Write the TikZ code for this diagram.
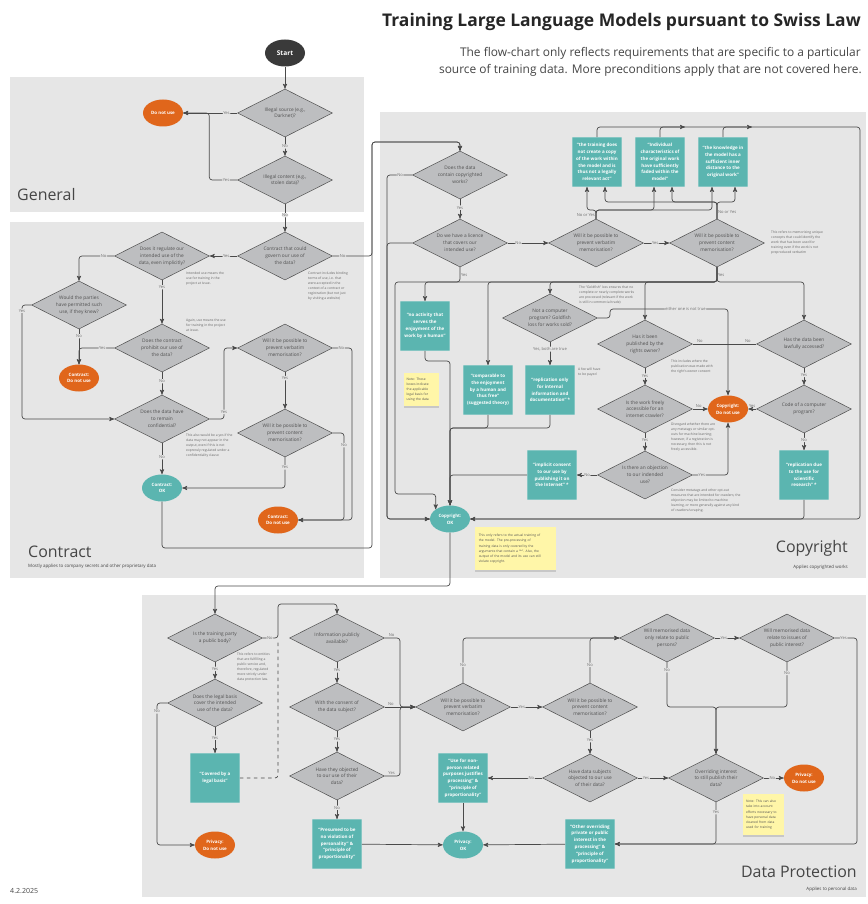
\documentclass[tikz,border=0pt]{standalone}
\usepackage{fontspec}
\setmainfont{Open Sans}
\usetikzlibrary{arrows,shapes.geometric,shadows}
\definecolor{panelbg}{HTML}{E6E6E6}
\definecolor{qgray}{HTML}{BDBEC0}
\definecolor{qtext}{HTML}{505050}
\definecolor{lineg}{HTML}{4A4A4A}
\definecolor{lcteal}{HTML}{5BB5B0}
\definecolor{lcorange}{HTML}{E0661B}
\definecolor{startdark}{HTML}{3A3A3A}
\definecolor{memoyel}{HTML}{FFF6A8}
\definecolor{notegray}{HTML}{666666}
\definecolor{lblgray}{HTML}{707070}
\definecolor{sectgray}{HTML}{454545}
\tikzset{
	fc_q/.style = {diamond, aspect=2, draw=lineg, line width=0.4pt, fill=qgray,
		text=qtext, inner sep=0pt, minimum width=2.85cm, minimum height=1.44cm,
		align=center, font=\fontsize{4.1}{5.8}\selectfont},% question
	fc_box/.style = {rectangle, rounded corners=0.6pt, fill=lcteal, draw=lcteal!75!white,
		text=white, minimum width=1.48cm, minimum height=1.48cm, inner sep=0pt,
		align=center, font=\bfseries\fontsize{3.85}{5.8}\selectfont},% base legale
	fc_ok/.style = {ellipse, fill=lcteal, text=white, minimum width=1.2cm,
		minimum height=0.81cm, inner sep=0pt, align=center,
		font=\bfseries\fontsize{3.8}{5.7}\selectfont},% ok
	fc_stop/.style = {fc_ok, fill=lcorange},% ne pas utiliser
	fc_note/.style = {anchor=north west, align=left, text=notegray, inner sep=0pt,
		font=\fontsize{2.85}{4.3}\selectfont},
	fc_memo/.style = {anchor=north west, align=left, fill=memoyel, text=qtext,
		inner ysep=0pt, font=\fontsize{2.8}{4.4}\selectfont,
		drop shadow={shadow xshift=0pt, shadow yshift=-1.3pt, opacity=0.3}},
	fc_lbl/.style = {fill=panelbg, text=lblgray, inner sep=0.6pt,
		font=\fontsize{3.5}{4}\selectfont},
	fc_sect/.style = {text=sectgray, inner sep=0pt, font=\fontsize{13.6}{16}\selectfont},
	fc_sub/.style = {text=sectgray, inner sep=0pt, font=\fontsize{3.8}{5}\selectfont},
	flow/.style = {->, draw=lineg, line width=0.6pt, rounded corners=2.5pt},
	link/.style = {-, draw=lineg, line width=0.6pt, rounded corners=2.5pt}
}

\begin{document}
\begin{tikzpicture}[x=0.03cm, y=-0.03cm, >=stealth']
\fill[white] (0,0) rectangle (867,904);
\useasboundingbox (0,0) rectangle (867,904);

% panels
\fill[panelbg] (10,77) rectangle (364,212);
\fill[panelbg] (10,222) rectangle (364,578);
\fill[panelbg] (380,112) rectangle (866,578);
\fill[panelbg] (142,595) rectangle (866,897);

\node[anchor=base east, text=black!85, inner sep=0pt,
	font=\bfseries\fontsize{14.9}{17}\selectfont] (title) at (861,27)
	{Training Large Language Models pursuant to Swiss Law};
\node[anchor=base east, text=sectgray, inner sep=0pt, font=\fontsize{10.2}{12}\selectfont] (sub1) at (861,57)
	{The flow-chart only reflects requirements that are specific to a particular};
\node[anchor=base east, text=sectgray, inner sep=0pt, font=\fontsize{10.2}{12}\selectfont] (sub2) at (862,74)
	{source of training data. More preconditions apply that are not covered here.};
\node[anchor=base west, text=sectgray, inner sep=0pt, font=\fontsize{6}{7}\selectfont] (date) at (10,893) {4.2.2025};

\node[fc_sect, anchor=base west] (t_gen) at (17,200) {General};
\node[fc_sect, anchor=base west] (t_ctr) at (28,557) {Contract};
\node[fc_sub, anchor=base west] (s_ctr) at (28,567) {Mostly applies to company secrets and other proprietary data};
\node[fc_sect, anchor=base east] (t_cp) at (848,552) {Copyright};
\node[fc_sub, anchor=base east] (s_cp) at (848,568) {Applies copyrighted works};
\node[fc_sect, anchor=base east] (t_dp) at (857,877) {Data Protection};
\node[fc_sub, anchor=base east] (s_dp) at (857,890) {Applies to personal data};

% general
\node[fc_ok, fill=startdark, font=\bfseries\fontsize{5.6}{6.5}\selectfont] (start) at (285,53) {Start};
\node[fc_q] (q_src) at (285,113) {Illegal source (e.g.,\\Darknet)?};
\node[fc_q] (q_cnt) at (285,180) {Illegal content (e.g.,\\stolen data)?};
\node[fc_stop] (stop_gen) at (163,113) {Do not use};

% contract
\node[fc_q] (q_ctr) at (285,256) {Contract that could\\govern our use of\\the data?};
\node[fc_q] (q_reg) at (162,256) {Does it regulate our\\intended use of the\\data, even implicitly?};
\node[fc_q] (q_perm) at (79,305) {Would the parties\\have permitted such\\use, if they knew?};
\node[fc_q] (q_proh) at (162,348) {Does the contract\\prohibit our use of\\the data?};
\node[fc_stop] (ctr_stop1) at (79,378) {Contract:\\Do not use};
\node[fc_q] (q_conf) at (162,419) {Does the data have\\to remain\\confidential?};
\node[fc_ok] (ctr_ok) at (162,488) {Contract:\\OK};
\node[fc_q] (q_cvb) at (285,348) {Will it be possible to\\prevent verbatim\\memorisation?};
\node[fc_q] (q_ccm) at (285,433) {Will it be possible to\\prevent content\\memorisation?};
\node[fc_stop] (ctr_stop2) at (278,520) {Contract:\\Do not use};

\node[fc_note] (n_ctr) at (308,272) {Contract includes binding\\terms of use, i.e. that\\were accepted in the\\context of a contract or\\registration (but not just\\by visiting a website)};
\node[fc_note] (n_reg) at (186,272) {Intended use means the\\use for training in the\\project at issue.};
\node[fc_note] (n_proh) at (186,319) {Again, use means the use\\for training in the project\\at issue.};
\node[fc_note] (n_conf) at (186,434) {This also would be a yes if the\\data may not appear in the\\output, even if this is not\\expressly regulated under a\\confidentiality clause};

% copyright
\node[fc_q] (q_cw) at (460,175) {Does the data\\contain copyrighted\\works?};
\node[fc_q] (q_lic) at (460,243) {Do we have a licence\\that covers our\\intended use?};
\node[fc_q] (q_vb) at (596,243) {Will it be possible to\\prevent verbatim\\memorisation?};
\node[fc_q] (q_cm) at (717,243) {Will it be possible to\\prevent content\\memorisation?};
\node[fc_box] (b_copy) at (597,162) {“the training does\\not create a copy\\of the work within\\the model and is\\thus not a legally\\relevant act”};
\node[fc_box] (b_fade) at (660,162) {“Individual\\characteristics of\\the original work\\have sufficiently\\faded within the\\model”};
\node[fc_box] (b_dist) at (723,162) {“the knowledge in\\the model has a\\sufficient inner\\distance to the\\original work”};
\node[fc_note] (n_cm) at (771,231) {This refers to memorising unique\\concepts that could identify the\\work that has been used for\\training even if the work is not\\preproduced verbatim};

\node[fc_box] (b_enj) at (425,326) {“no activity that\\serves the\\enjoyment of the\\work by a human”};
\node[fc_box] (b_comp) at (488,390) {“comparable to\\the enjoyment\\by a human and\\thus free”\\(suggested theory)};
\node[fc_q] (q_prog) at (550,318) {Not a computer\\program? Goldfish\\loss for works sold?};
\node[fc_box] (b_int) at (550,390) {“replication only\\for internal\\information and\\documentation” *};
\node[fc_note] (n_prog) at (579,286) {The “Goldfish” loss ensures that no\\complete or nearly complete works\\are processed (relevant if the work\\is still in commercial trade)};
\node[fc_note] (n_fee) at (578,368) {A fee will have\\to be payed};
\node[fc_memo, text width=26pt, inner xsep=2pt, minimum height=0.99cm] (y_note) at (404,373) {Note: These\\boxes indicate\\the applicable\\legal basis for\\using the data};

\node[fc_q] (q_pub) at (645,344) {Has it been\\published by the\\rights owner?};
\node[fc_q] (q_craw) at (645,409) {Is the work freely\\accessible for an\\internet crawler?};
\node[fc_q] (q_obj) at (645,475) {Is there an objection\\to our indended\\use?};
\node[fc_box] (b_impl) at (552,475) {“implicit consent\\to our use by\\publishing it on\\the Internet” *};
\node[fc_stop] (cp_stop) at (728,409) {Copyright:\\Do not use};
\node[fc_q] (q_law) at (804,344) {Has the data been\\lawfully accessed?};
\node[fc_q] (q_code) at (804,409) {Code of a computer\\program?};
\node[fc_box] (b_sci) at (804,475) {“replication due\\to the use for\\scientific\\research” *};
\node[fc_ok] (cp_ok) at (450,519) {Copyright:\\OK};
\node[fc_note] (n_pub) at (671,360) {This includes where the\\publication was made with\\the right's owner consent};
\node[fc_note] (n_craw) at (671,423) {Disregard whether there are\\any metatags or similar opt-\\outs for machine learning;\\however, if a registration is\\necessary, then this is not\\freely accessible.};
\node[fc_note] (n_obj) at (671,489) {Consider metatags and other opt-out\\measures that are intended for crawlers; the\\objection may be limited to machine\\learning, or more generally against any kind\\of crawlers/scraping.};
\node[fc_memo, text width=63pt, inner xsep=3pt, minimum height=1.29cm] (y_cp) at (475,527) {This only refers to the actual training of\\the model. The pre-processing of\\training data is only covered by the\\arguments that contain a “*”. Also, the\\output of the model and its use can still\\violate copyright.};

% data protection
\node[fc_q] (q_pb) at (215,638) {Is the training party\\a public body?};
\node[fc_q] (q_leg) at (215,703) {Does the legal basis\\cover the intended\\use of the data?};
\node[fc_box] (b_leg) at (215,778) {“Covered by a\\legal basis”};
\node[fc_stop] (pv_stop1) at (215,845) {Privacy:\\Do not use};
\node[fc_note] (n_pb) at (237,653) {This refers to entities\\that are fulfilling a\\public service and,\\therefore, regulated\\more strictly under\\data protection law.};
\node[fc_q] (q_info) at (337,638) {Information publicly\\available?};
\node[fc_q] (q_cons) at (337,707) {With the consent of\\the data subject?};
\node[fc_q] (q_objd) at (337,776) {Have they objected\\to our use of their\\data?};
\node[fc_box] (b_pres) at (337,844) {“Presumed to be\\no violation of\\personality” \&\\“principle of\\proportionality”};
\node[fc_ok] (pv_ok) at (463,845) {Privacy:\\OK};
\node[fc_q] (q_dvb) at (463,707) {Will it be possible to\\prevent verbatim\\memorisation?};
\node[fc_q] (q_dcm) at (590,707) {Will it be possible to\\prevent content\\memorisation?};
\node[fc_q] (q_dsub) at (590,778) {Have data subjects\\objected to our use\\of their data?};
\node[fc_box] (b_nonp) at (463,778) {“Use for non-\\person related\\purposes justifies\\processing” \&\\“principle of\\proportionality”};
\node[fc_box] (b_oth) at (590,844) {“Other overriding\\private or public\\interest in the\\processing” \&\\“principle of\\proportionality”};
\node[fc_q] (q_ppl) at (667,638) {Will memorised data\\only relate to public\\persons?};
\node[fc_q] (q_pint) at (787,638) {Will memorised data\\relate to issues of\\public interest?};
\node[fc_q] (q_over) at (716,778) {Overriding interest\\to still publish their\\data?};
\node[fc_stop] (pv_stop2) at (804,778) {Privacy:\\Do not use};
\node[fc_memo, text width=30pt, inner xsep=2.4pt, minimum height=1.23cm] (y_dp) at (743,794) {Note: This can also\\take into account\\efforts necessary to\\have personal data\\cleaned from data\\used for training};

% connectors: general
\draw[flow] (start) -- (q_src);
\draw[flow] (q_src) -- node[fc_lbl, pos=0.2]{Yes} (stop_gen);
\draw[flow] (q_cnt.west) -- node[fc_lbl, pos=0.4]{Yes} ++(-28,0) |- (stop_gen.east);
\draw[flow] (q_src) -- node[fc_lbl]{No} (q_cnt);
\draw[flow] (q_cnt) -- node[fc_lbl, pos=0.4]{No} (q_ctr);

% connectors: contract
\draw[flow] (q_ctr) -- node[fc_lbl, pos=0.4]{Yes} (q_reg);
\draw[flow] (q_ctr.east) -- node[fc_lbl, pos=0.25]{No} (372,256) -- (372,142) -| (q_cw.north);
\draw[flow] (q_reg.west) -| node[fc_lbl, pos=0.15]{No} (q_perm.north);
\draw[flow] (q_reg) -- node[fc_lbl, pos=0.16]{Yes} (q_proh);
\draw[flow] (q_perm.west) -- (22,305) -- node[fc_lbl, pos=0.05]{Yes} (22,419) -- (q_conf.west);
\draw[flow] (q_perm) -- node[fc_lbl, pos=0.2]{No} (ctr_stop1);
\draw[flow] (q_proh.west) -| node[fc_lbl, pos=0.17]{Yes} (ctr_stop1.north);
\draw[flow] (q_proh) -- node[fc_lbl, pos=0.4]{No} (q_conf);
\draw[flow] (q_conf) -- node[fc_lbl, pos=0.45]{No} (ctr_ok);
\draw[flow] (q_conf.east) -- (224,419) -- node[fc_lbl, pos=0.1]{Yes} (224,348) -- (q_cvb.west);
\draw[flow] (q_cvb) -- node[fc_lbl, pos=0.16]{Yes} (q_ccm);
\draw[flow] (q_cvb.east) -- node[fc_lbl, pos=0.45]{No} (352,348) |- (ctr_stop2.east);
\draw[flow] (q_ccm.east) -- (344,433) -- node[fc_lbl, pos=0.14]{No} (344,520) -- (ctr_stop2.east);
\draw[flow] (q_ccm.south) -- node[fc_lbl, pos=0.33]{Yes} (285,488) -- (ctr_ok.east);
\draw[flow] (ctr_ok.south) |- (372,548) -- (372,142) -| (q_cw.north);

% connectors: copyright
\draw[flow] (q_cw.west) -- node[fc_lbl, pos=0.48]{No} (387,175) |- (cp_ok.west);
\draw[flow] (q_lic.west) -- (387,243) |- (cp_ok.west);
\draw[flow] (q_cw) -- node[fc_lbl, pos=0.43]{Yes} (q_lic);
\draw[flow] (q_lic.south) -- node[fc_lbl, right, fill=none, pos=0.5]{Yes} (460,282) -- (395,282) -- (395,494) -| (cp_ok.north west);
\draw[flow] (q_lic) -- node[fc_lbl, pos=0.26]{No} (q_vb);
\draw[flow] (q_vb) -- node[fc_lbl, pos=0.45]{Yes} (q_cm);
\draw[flow] (q_vb.north) -- node[fc_lbl, left, fill=none, pos=0.4]{No or Yes} (596,210) -| ([xshift=-0.3cm]b_copy.south);
\draw[flow] (q_vb.north) -- (596,210) -| ([xshift=-0.18cm]b_fade.south);
\draw[flow] (q_vb.north) -- (596,210) -| ([xshift=-0.33cm]b_dist.south);
\draw[flow] (q_cm.north) -- node[fc_lbl, right, fill=none, pos=0.4]{No or Yes} (717,202) -| ([xshift=0.24cm]b_copy.south);
\draw[flow] (q_cm.north) -- (717,202) -| ([xshift=0.36cm]b_fade.south);
\draw[flow] (q_cm.north) -- (717,202) -| ([xshift=0.36cm]b_dist.south);
\coordinate (j_a) at (685,127);
\coordinate (j_b) at (752,127);
\draw[flow] (b_copy.north) |- (j_a);
\draw[flow] (b_fade.north) |- (j_b);
\draw[flow] (b_dist.north) |- (860,127) |- (cp_ok.east);
\draw[flow] (q_cm.south) -- node[fc_lbl, right, fill=none, pos=0.5]{Yes} (717,282) -| (b_enj.north);
\draw[flow] (q_cm.south) -- (717,282) -| (b_comp.north);
\draw[flow] (q_cm.south) -- (717,282) -| (q_prog.north);
\draw[flow] (q_cm.south) -- (717,282) -| (q_pub.north);
\draw[flow] (q_cm.south) -- (717,282) -| (q_law.north);
\draw[flow] (b_enj.south) |- (450,361) -- (cp_ok.north);
\draw[flow] (b_comp.south) |- (450,428) -- (cp_ok.north);
\draw[flow] (b_int.south) |- (450,428) -- (cp_ok.north);
\draw[flow] (b_impl.west) -| (cp_ok.north);
\draw[flow] (b_sci.south) |- (cp_ok.east);
\draw[flow] (q_prog) -- node[fc_lbl, pos=0.3]{Yes, both are true} (b_int);
\draw[flow] (q_prog.east) -- (610,318) -- (610,309) -- node[fc_lbl, pos=0.64]{either one is not true} (728,309) -- (cp_stop.north);
\coordinate (j_c) at (728,344);
\draw[link] (q_pub.east) -- node[fc_lbl, above, fill=none, pos=0.2]{No} (j_c);
\draw[link] (q_law.west) -- node[fc_lbl, above, fill=none, pos=0.3]{No} (j_c);
\draw[flow] (q_pub) -- node[fc_lbl, pos=0.45]{Yes} (q_craw);
\draw[flow] (q_craw) -- node[fc_lbl, above, fill=none, pos=0.4]{No} (cp_stop);
\draw[flow] (q_craw) -- node[fc_lbl, pos=0.4]{Yes} (q_obj);
\draw[flow] (q_obj.east) -| node[fc_lbl, pos=0.13]{Yes} (cp_stop.south);
\draw[flow] (q_obj) -- node[fc_lbl, pos=0.5]{No} (b_impl);
\draw[flow] (q_law) -- node[fc_lbl, pos=0.4]{Yes} (q_code);
\draw[flow] (q_code) -- node[fc_lbl, above, fill=none, pos=0.5]{Yes} (cp_stop);
\draw[flow] (q_code) -- node[fc_lbl, pos=0.4]{No} (b_sci);
\draw[flow] (cp_ok.south) |- (215,586) -- (q_pb.north);

% connectors: data protection
\draw[flow] (q_pb) -- node[fc_lbl, pos=0.4]{Yes} (q_leg);
\draw[flow] (q_pb.east) -- node[fc_lbl, pos=0.47]{No} (278,638) -- (278,604) -| (q_info.north);
\draw[flow] (q_leg) -- node[fc_lbl, pos=0.4]{Yes} (b_leg);
\draw[flow] (q_leg.west) -- (157,703) -- node[fc_lbl, pos=0.06]{No} (157,845) -- (pv_stop1.west);
\draw[link, dashed] (b_leg.east) -| (278,640);
\draw[flow] (q_info) -- node[fc_lbl, pos=0.4]{Yes} (q_cons);
\draw[flow] (q_cons) -- node[fc_lbl, pos=0.4]{Yes} (q_objd);
\draw[flow] (q_objd) -- node[fc_lbl, pos=0.4]{No} (b_pres);
\draw[flow] (b_pres) -- (pv_ok);
\draw[flow] (q_info.east) -- node[fc_lbl, above, fill=none, pos=0.45]{No} (400,638) |- (q_dvb.west);
\draw[flow] (q_cons.east) -- node[fc_lbl, above, fill=none, pos=0.2]{No} (q_dvb.west);
\draw[flow] (q_objd.east) -- node[fc_lbl, above, fill=none, pos=0.45]{Yes} (400,776) |- (q_dvb.west);
\draw[flow] (q_dvb) -- node[fc_lbl, pos=0.35]{Yes} (q_dcm);
\draw[flow] (q_dvb.north) |- node[fc_lbl, pos=0.2]{No} (q_ppl.west);
\draw[flow] (q_dcm.north) |- node[fc_lbl, pos=0.2]{No} (q_ppl.west);
\draw[flow] (q_dcm) -- node[fc_lbl, pos=0.4]{Yes} (q_dsub);
\draw[flow] (q_dsub) -- node[fc_lbl, pos=0.2]{No} (b_nonp);
\draw[flow] (b_nonp) -- (pv_ok);
\draw[flow] (q_dsub) -- node[fc_lbl, pos=0.27]{Yes} (q_over);
\draw[flow] (q_ppl) -- node[fc_lbl, pos=0.37]{Yes} (q_pint);
\draw[flow] (q_ppl.south) -- node[fc_lbl, pos=0.18]{No} (667,707) -| (q_over.north);
\draw[flow] (q_pint.south) -- node[fc_lbl, pos=0.24]{No} (787,707) -| (q_over.north);
\draw[flow] (q_pint.east) -- node[fc_lbl, pos=0.4]{Yes} (857,638) |- (b_oth.east);
\draw[flow] (q_over) -- node[fc_lbl, pos=0.43]{No} (pv_stop2);
\draw[flow] (q_over.south) -- node[fc_lbl, pos=0.24]{Yes} (716,844) -- (b_oth.east);
\draw[flow] (b_oth) -- (pv_ok);
\end{tikzpicture}
\end{document}
